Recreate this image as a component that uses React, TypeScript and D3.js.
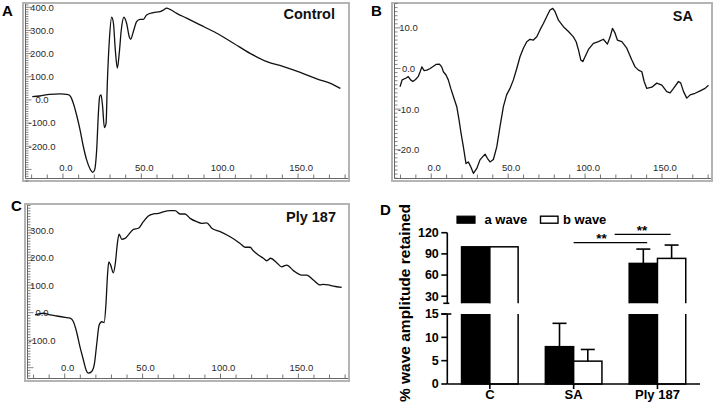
import React from "react";
import * as d3 from "d3";

const W = 720;
const H = 412;
const FONT = "'Liberation Sans', Arial, Helvetica, sans-serif";

// ---------- ERG traces (time in ms, amplitude in µV) ----------
const timeDomain: [number, number] = [-25.5, 182.5];
const timeTicks = [0, 50, 100, 150];

const controlT = [-19.6,-14.8,-8.5,-1.9,3.4,4.9,6.6,8.7,10.9,13,15.1,17.3,19,20.2,21.5,22.6,23.4,24.3,25.3,26.4,27.5,28.3,29.6,31.1,32.2,33.4,34.7,35.9,37.2,38.9,40.6,42.3,43.2,44.9,47,49.1,51.3,53.4,57.7,61.9,64,66.2,68.3,72.6,78.9,87.5,98.1,108.8,119.4,130.1,140.7,151.4,162,172.7,177];
const controlV = [14,17,24,26,23,14,-14,-65,-129,-201,-259,-298,-313,-302,-216,-58,14,22,-29,-119,-101,72,259,357,331,216,137,201,302,357,331,273,262,295,338,348,348,367,377,381,388,396,391,374,353,324,288,245,201,165,144,119,91,65,50];
const controlTicks = [-200, -100, 0, 100, 200, 300, 400];

const saT = [-20.3,-18.9,-16.6,-14.9,-13.4,-11.9,-10.2,-8.5,-7.2,-6.1,-4.6,-2.8,-0.7,3.1,5.3,6.8,7.9,9.6,11.1,12.7,14.4,16.6,18.1,19.4,20.9,22.6,24.1,25.7,27.4,29.6,31.7,33.5,35,36.5,38.2,40.4,42.6,44.7,46.9,49,51.2,53.4,55.6,57.7,59.9,62.1,64.2,66.4,68.6,70.7,72.9,75.1,77.2,79,80.5,82.7,85.9,89.2,92.4,94.2,95.7,97.2,98.5,100,102.2,105.4,108.7,111.9,114.5,116.3,117.8,119.5,121,123.9,127.1,130.4,132.5,134.7,136.9,138.4,140.1,143.4,146.6,149.9,153.1,155.3,157.5,160.7,162.2,164,166.1,168.3,171.5,174.8,178,180.2];
const saV = [-4.5,-2.8,-2.4,-2.0,-2.8,-3.2,-2.7,-2.0,-0.8,0.4,-0.5,-0.4,0.0,1.0,1.1,0.4,-0.8,-1.6,-2.8,-4.9,-6.9,-9.4,-12.7,-16,-19.3,-23.4,-23,-24.2,-25.8,-24.6,-22.5,-21.7,-21.1,-22.1,-23,-22.4,-19.3,-14.3,-9.4,-6.5,-4.9,-2.8,0,2.9,5,6.6,7.2,7.0,7.8,9.5,11.1,12.8,14.4,14.8,14,11.9,10.3,9.1,7.8,6.6,4.6,2.1,1.7,2.9,4.7,6.2,6.6,7.2,6.0,7.8,9.9,8.7,7.0,6.6,5,2.1,0.4,-0.4,-0.8,-3.2,-4.9,-4.6,-3.6,-4.1,-5.7,-6.0,-4.9,-3.2,-3.6,-5.7,-7.3,-6.5,-6.1,-5.5,-4.9,-4.1];
const saTicks = [-20, -10, 0, 10];

const plyT = [-19.1,-13.7,-9.4,-5.2,0.2,3.4,5.6,7.3,9.8,12,13.7,15.2,17.3,19.1,20.6,22.1,23.8,25.3,26.5,27.4,28.3,29.5,31.2,32.5,33.8,34.9,36.6,38.7,40.9,44.1,47.3,50.5,53.7,56.9,60.1,63.3,67.6,70.8,74,77.2,80.5,84.7,88,91.2,94.4,99.8,106.2,112.6,115.8,119,121.1,124.3,127.5,129.7,132.2,136.1,139.3,142.5,146.8,152.1,155.4,159.6,163.9,166,169.2,172.4,177.8];
const plyV = [-8,-2,-8,-12,-17,-20,-33,-63,-124,-172,-208,-220,-214,-184,-111,-45,-33,-36,34,131,185,173,145,180,252,286,267,270,283,303,307,331,352,359,361,367,371,371,359,359,343,331,325,327,307,295,276,252,238,238,225,210,198,189,198,182,167,173,153,137,137,119,101,103,101,97,92];
const plyTicks = [-100, 0, 100, 200, 300];

// ---------- Panel D data ----------
const dGroups = ["C", "SA", "Ply 187"];
const aWave = [100, 8.0, 76.5];
const bWave = [100, 4.9, 83.6];
const aWaveErr = [0, 5.0, 20.3];
const bWaveErr = [0, 2.5, 18.9];
const upperTicks = [30, 60, 90, 120];
const lowerTicks = [0, 5, 10, 15];
const legendLabels = ["a wave", "b wave"];
const dTitle = "% wave amplitude retained";

type Frame = { x: number; y: number; w: number; h: number };

function ErgPanel(props: {
  id: string;
  frame: Frame;
  yDomain: [number, number];
  yTicks: number[];
  yMinor: number;
  t: number[];
  v: number[];
  title: string;
  titleX: number;
  titleY: number;
  labelCx: number;
  smooth: boolean;
}) {
  const { id, frame, yDomain, yTicks, yMinor, t, v, title, titleX, titleY, labelCx, smooth } = props;
  const x = d3.scaleLinear().domain(timeDomain).range([frame.x, frame.x + frame.w]);
  const y = d3.scaleLinear().domain(yDomain).range([frame.y + frame.h, frame.y]);
  const axX = frame.x + 2.5;
  const axY = frame.y + frame.h - 2.5;
  const minor = d3.range(Math.ceil(yDomain[0] / yMinor) * yMinor, yDomain[1], yMinor);
  const xMinor = d3.range(-20, 181, 10);
  const pts = t.map((tt, i) => [tt, v[i]] as [number, number]);
  const line = d3
    .line<[number, number]>()
    .x((d) => x(d[0]))
    .y((d) => y(d[1]))
    .curve(smooth ? d3.curveMonotoneX : d3.curveLinear);
  const major = (val: number) => Math.abs(val % (yTicks[1] - yTicks[0])) < 1e-6;
  return (
    <g>
      <defs>
        <clipPath id={id}>
          <rect x={frame.x} y={frame.y} width={frame.w} height={frame.h} />
        </clipPath>
      </defs>
      <rect x={frame.x} y={frame.y} width={frame.w} height={frame.h} fill="#fff" stroke="#b4b4b4" strokeWidth={2} />
      <line x1={axX} x2={axX} y1={frame.y + 1} y2={axY} stroke="#666" strokeWidth={1} />
      <line x1={axX} x2={frame.x + frame.w - 1} y1={axY} y2={axY} stroke="#666" strokeWidth={1} />
      {minor.map((m) => (
        <line key={"ym" + m} x1={axX} x2={axX + (major(m) ? 6 : 3)} y1={y(m)} y2={y(m)} stroke="#666" strokeWidth={0.8} />
      ))}
      {xMinor.map((m) => (
        <line key={"xm" + m} x1={x(m)} x2={x(m)} y1={axY} y2={axY - (m % 50 === 0 ? 5 : 4)} stroke="#666" strokeWidth={0.9} />
      ))}
      {yTicks.map((tk) => (
        <text key={"yl" + tk} x={labelCx} y={y(tk) + 3.4} textAnchor="middle" fontFamily={FONT} fontSize={9.5} fill="#2a2a2a">
          {tk.toFixed(1)}
        </text>
      ))}
      {timeTicks.map((tk) => (
        <text key={"xl" + tk} x={x(tk) + 3} y={frame.y + frame.h - 10} textAnchor="middle" fontFamily={FONT} fontSize={9.5} fill="#2a2a2a">
          {tk.toFixed(1)}
        </text>
      ))}
      <path d={line(pts) || ""} fill="none" stroke="#111" strokeWidth={1.3} clipPath={`url(#${id})`} strokeLinejoin="round" />
      <text x={titleX} y={titleY} textAnchor="end" fontFamily={FONT} fontWeight="bold" fontSize={14.5} fill="#111">
        {title}
      </text>
    </g>
  );
}

function BarPanel() {
  const axisX = 447.3;
  const xBand = d3.scaleBand<string>().domain(dGroups).range([axisX, 700]).paddingInner(0.325).paddingOuter(0.17);
  const bw = xBand.bandwidth();
  const half = bw / 2;
  const yUp = d3.scaleLinear().domain([20, 120]).range([303.3, 232.7]);
  const yLo = d3.scaleLinear().domain([0, 15]).range([384, 314]);
  const series = [
    { vals: aWave, errs: aWaveErr, fill: "#000", off: 0 },
    { vals: bWave, errs: bWaveErr, fill: "#fff", off: half },
  ];
  const yOf = (val: number) => (val > 15 ? yUp(val) : yLo(val));
  const plyX = xBand("Ply 187") as number;
  const saX = xBand("SA") as number;
  return (
    <g fontFamily={FONT}>
      <defs>
        <clipPath id="clipUp">
          <rect x={axisX} y={220} width={260} height={303.3 - 220} />
        </clipPath>
        <clipPath id="clipLo">
          <rect x={axisX} y={314} width={260} height={72} />
        </clipPath>
      </defs>
      {/* bars, upper segment */}
      <g clipPath="url(#clipUp)">
        {series.map((s, si) =>
          dGroups.map((g, i) =>
            s.vals[i] > 20 ? (
              <rect key={`u${si}${i}`} x={(xBand(g) as number) + s.off} y={yUp(s.vals[i])} width={half}
                height={yUp(20) + 10 - yUp(s.vals[i])} fill={s.fill} stroke="#000" strokeWidth={1.5} />
            ) : null
          )
        )}
      </g>
      {/* bars, lower segment */}
      <g clipPath="url(#clipLo)">
        {series.map((s, si) =>
          dGroups.map((g, i) => {
            const top = s.vals[i] > 15 ? 300 : yLo(s.vals[i]);
            return (
              <rect key={`l${si}${i}`} x={(xBand(g) as number) + s.off} y={top} width={half}
                height={yLo(0) - top} fill={s.fill} stroke="#000" strokeWidth={1.5} />
            );
          })
        )}
      </g>
      {/* error bars */}
      {series.map((s, si) =>
        dGroups.map((g, i) => {
          if (!s.errs[i]) return null;
          const cx = (xBand(g) as number) + s.off + half / 2;
          const yTop = yOf(s.vals[i] + s.errs[i]);
          return (
            <g key={`e${si}${i}`} stroke="#000" strokeWidth={1.6}>
              <line x1={cx} x2={cx} y1={yOf(s.vals[i])} y2={yTop} />
              <line x1={cx - 7} x2={cx + 7} y1={yTop} y2={yTop} />
            </g>
          );
        })
      )}
      {/* axes */}
      <g stroke="#000" strokeWidth={1.6}>
        <line x1={axisX} x2={axisX} y1={yUp(120)} y2={yUp(20)} />
        <line x1={axisX - 4} x2={axisX + 2} y1={yUp(20)} y2={yUp(20)} />
        <line x1={axisX} x2={axisX} y1={yLo(15)} y2={yLo(0)} />
        <line x1={axisX - 6} x2={axisX + 4} y1={yLo(15)} y2={yLo(15)} />
        <line x1={axisX} x2={700} y1={yLo(0)} y2={yLo(0)} />
        {upperTicks.map((tk) => (
          <line key={"ut" + tk} x1={axisX - 6} x2={axisX} y1={yUp(tk)} y2={yUp(tk)} />
        ))}
        {lowerTicks.map((tk) => (
          <line key={"lt" + tk} x1={axisX - 6} x2={axisX} y1={yLo(tk)} y2={yLo(tk)} />
        ))}
        {dGroups.map((g) => (
          <line key={"xt" + g} x1={(xBand(g) as number) + half} x2={(xBand(g) as number) + half} y1={yLo(0)} y2={yLo(0) + 5} />
        ))}
      </g>
      {upperTicks.map((tk) => (
        <text key={"ul" + tk} x={axisX - 8.5} y={yUp(tk) + 4.3} textAnchor="end" fontWeight="bold" fontSize={12.5} fill="#000">
          {tk}
        </text>
      ))}
      {lowerTicks.map((tk) => (
        <text key={"ll" + tk} x={axisX - 8.5} y={yLo(tk) + 4.3} textAnchor="end" fontWeight="bold" fontSize={12.5} fill="#000">
          {tk}
        </text>
      ))}
      {dGroups.map((g) => (
        <text key={"cl" + g} x={(xBand(g) as number) + half} y={399} textAnchor="middle" fontWeight="bold" fontSize={13} fill="#000">
          {g}
        </text>
      ))}
      <text transform="translate(409.5,303) rotate(-90)" textAnchor="middle" fontWeight="bold" fontSize={15.5} fill="#000">
        {dTitle}
      </text>
      {/* legend */}
      <rect x={457} y={216.2} width={18} height={7} fill="#000" stroke="#000" strokeWidth={1.2} />
      <text x={484.5} y={223.5} fontWeight="bold" fontSize={13} fill="#000">{legendLabels[0]}</text>
      <rect x={540.5} y={216.2} width={17.5} height={7} fill="#fff" stroke="#000" strokeWidth={1.4} />
      <text x={563} y={223.5} fontWeight="bold" fontSize={13} fill="#000">{legendLabels[1]}</text>
      {/* significance */}
      <g stroke="#000" strokeWidth={1.2}>
        <line x1={saX + half} x2={plyX + 18} y1={242.7} y2={242.7} />
        <line x1={plyX - 14.5} x2={plyX + 41.5} y1={234.3} y2={234.3} />
      </g>
      <text x={plyX - 27.7} y={243.2} textAnchor="middle" fontWeight="bold" fontSize={13.5} fill="#000">**</text>
      <text x={plyX + 12.8} y={235} textAnchor="middle" fontWeight="bold" fontSize={13.5} fill="#000">**</text>
    </g>
  );
}

export default function App() {
  return (
    <svg width={W} height={H} viewBox={`0 0 ${W} ${H}`} style={{ position: "absolute", left: 0, top: 0, background: "#fff" }}>
      <rect x={0} y={0} width={W} height={H} fill="#fff" />
      <ErgPanel id="clipA" frame={{ x: 23, y: 3, w: 326, h: 178 }} yDomain={[-350, 418.5]} yTicks={controlTicks} yMinor={10}
        t={controlT} v={controlV} title="Control" titleX={335} titleY={19} labelCx={42} smooth={true} />
      <ErgPanel id="clipB" frame={{ x: 392, y: 3, w: 320, h: 178 }} yDomain={[-27.7, 16.13]} yTicks={saTicks} yMinor={1}
        t={saT} v={saV} title="SA" titleX={693} titleY={20.5} labelCx={408.5} smooth={false} />
      <ErgPanel id="clipC" frame={{ x: 25, y: 204, w: 324, h: 177 }} yDomain={[-248.4, 395.3]} yTicks={plyTicks} yMinor={10}
        t={plyT} v={plyV} title="Ply 187" titleX={336} titleY={222} labelCx={42} smooth={true} />
      <BarPanel />
      <g fontFamily={FONT} fontWeight="bold" fontSize={15} fill="#000">
        <text x={2} y={15.5}>A</text>
        <text x={371} y={15.5}>B</text>
        <text x={11} y={210.5}>C</text>
        <text x={380} y={215}>D</text>
      </g>
    </svg>
  );
}
